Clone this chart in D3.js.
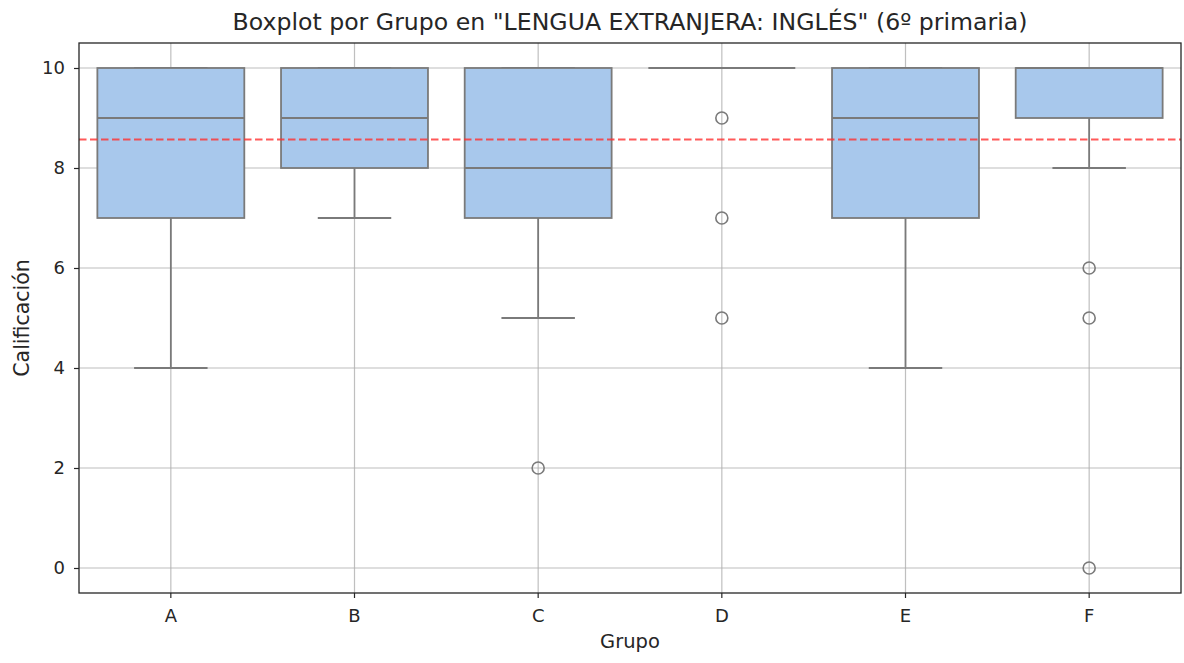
<!DOCTYPE html>
<html><head><meta charset="utf-8">
<script src="https://cdn.jsdelivr.net/npm/d3@7"></script>
<style>body{margin:0;background:#fff;} text{font-family:"DejaVu Sans",sans-serif;fill:#262626;}</style>
</head><body><svg id="c" width="1184" height="663"></svg>
<script>
const categories = ["A","B","C","D","E","F"];
const q1 = [7, 8, 7, 10, 7, 9];
const medians = [9, 9, 8, 10, 9, 10];
const q3 = [10, 10, 10, 10, 10, 10];
const whiskerLow = [4, 7, 5, 10, 4, 8];
const whiskerHigh = [10, 10, 10, 10, 10, 10];
const outliers = [[], [], [2], [9, 7, 5], [], [6, 5, 0]];
const overallMean = 8.57;
const yTicks = [0, 2, 4, 6, 8, 10];

const svg = d3.select("#c");
const L = 79, R = 1181, T = 43, B = 593;
const x = d3.scaleBand().domain(categories).range([L, R]).paddingInner(0).paddingOuter(0);
const y = d3.scaleLinear().domain([-0.5, 10.5]).range([B, T]);
const bw = x.bandwidth();
const cx = c => x(c) + bw / 2;
const lineCol = "#7a7a7a";
const fill = "#a8c8ec";
const lw = 1.8;

// grid
const g = svg.append("g");
g.selectAll(".gy").data(yTicks).join("line")
  .attr("x1", L).attr("x2", R).attr("y1", d => y(d)).attr("y2", d => y(d))
  .attr("stroke", "#b0b0b0").attr("stroke-width", 1.2).attr("opacity", 0.8);
g.selectAll(".gx").data(categories).join("line")
  .attr("x1", d => cx(d)).attr("x2", d => cx(d)).attr("y1", T).attr("y2", B)
  .attr("stroke", "#b0b0b0").attr("stroke-width", 1.2).attr("opacity", 0.8);

const data = categories.map((c, i) => ({c, q1: q1[i], med: medians[i], q3: q3[i], lo: whiskerLow[i], hi: whiskerHigh[i], out: outliers[i]}));
const bx = svg.append("g");
data.forEach(d => {
  const xc = cx(d.c);
  const half = bw * 0.4, cap = bw * 0.2;
  bx.append("line").attr("x1", xc).attr("x2", xc).attr("y1", y(d.q1)).attr("y2", y(d.lo)).attr("stroke", lineCol).attr("stroke-width", lw);
  bx.append("line").attr("x1", xc).attr("x2", xc).attr("y1", y(d.q3)).attr("y2", y(d.hi)).attr("stroke", lineCol).attr("stroke-width", lw);
  bx.append("line").attr("x1", xc - cap).attr("x2", xc + cap).attr("y1", y(d.lo)).attr("y2", y(d.lo)).attr("stroke", lineCol).attr("stroke-width", lw);
  bx.append("line").attr("x1", xc - cap).attr("x2", xc + cap).attr("y1", y(d.hi)).attr("y2", y(d.hi)).attr("stroke", lineCol).attr("stroke-width", lw);
  bx.append("rect").attr("x", xc - half).attr("width", 2 * half)
    .attr("y", y(d.q3)).attr("height", Math.max(0, y(d.q1) - y(d.q3)))
    .attr("fill", fill).attr("stroke", lineCol).attr("stroke-width", lw);
  bx.append("line").attr("x1", xc - half).attr("x2", xc + half).attr("y1", y(d.med)).attr("y2", y(d.med)).attr("stroke", lineCol).attr("stroke-width", lw);
  d.out.forEach(o => {
    bx.append("circle").attr("cx", xc).attr("cy", y(o)).attr("r", 6)
      .attr("fill", "none").attr("stroke", lineCol).attr("stroke-width", 1.6);
  });
});

// mean line
svg.append("line").attr("x1", L).attr("x2", R).attr("y1", y(overallMean)).attr("y2", y(overallMean))
  .attr("stroke", "#ff3030").attr("stroke-width", 2).attr("stroke-dasharray", "7.5,3.5").attr("opacity", 0.8);

// axes
const yAxis = d3.axisLeft(y).tickValues(yTicks).tickSize(5).tickPadding(9);
const ya = svg.append("g").attr("transform", `translate(${L},0)`).call(yAxis);
const xAxis = d3.axisBottom(x).tickSize(5).tickPadding(11);
const xa = svg.append("g").attr("transform", `translate(0,${B})`).call(xAxis);
[ya, xa].forEach(a => {
  a.select(".domain").remove();
  a.selectAll("line").attr("stroke", "#262626").attr("stroke-width", 1.2);
  a.selectAll("text").attr("font-size", 18).attr("font-family", "DejaVu Sans").attr("fill", "#262626");
});
svg.append("rect").attr("x", L).attr("y", T).attr("width", R - L).attr("height", B - T)
  .attr("fill", "none").attr("stroke", "#262626").attr("stroke-width", 1.3);

svg.append("text").attr("x", (L + R) / 2).attr("y", 29.5).attr("text-anchor", "middle")
  .attr("font-size", 23).attr("textLength", 795).attr("lengthAdjust", "spacingAndGlyphs")
  .text('Boxplot por Grupo en "LENGUA EXTRANJERA: INGLÉS" (6º primaria)');
svg.append("text").attr("x", (L + R) / 2).attr("y", 648).attr("text-anchor", "middle")
  .attr("font-size", 19.5).text("Grupo");
svg.append("text").attr("transform", `translate(29,${(T + B) / 2}) rotate(-90)`).attr("text-anchor", "middle")
  .attr("font-size", 20.5).text("Calificación");
</script></body></html>
